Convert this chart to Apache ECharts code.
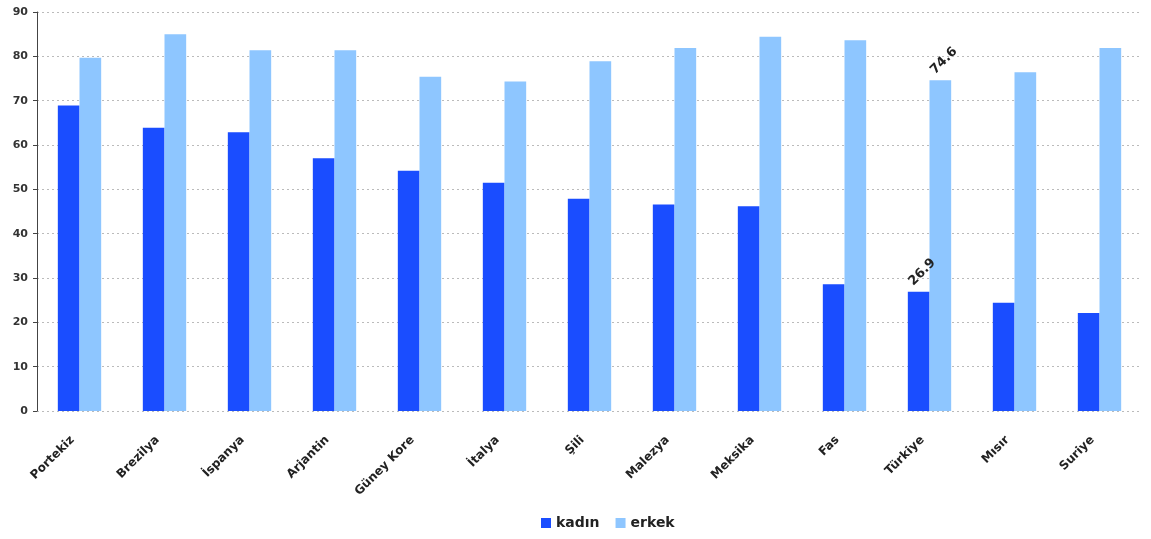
<!DOCTYPE html>
<html>
<head>
<meta charset="utf-8">
<script src="https://cdn.jsdelivr.net/npm/echarts@6/dist/echarts.min.js"></script>
<style>html,body{margin:0;padding:0;background:#fff;}#c{width:1151px;height:539px;}</style>
</head>
<body>
<div id="c"></div>
<script>
const categories = ['Portekiz','Brezilya','İspanya','Arjantin','Güney Kore','İtalya','Şili','Malezya','Meksika','Fas','Türkiye','Mısır','Suriye'];
const kadin = [68.9, 63.9, 62.9, 57.0, 54.2, 51.5, 47.9, 46.6, 46.2, 28.6, 26.9, 24.4, 22.1];
const erkek = [79.7, 85.0, 81.4, 81.4, 75.4, 74.3, 78.9, 81.9, 84.4, 83.6, 74.6, 76.4, 81.9];
const labelled = ['Türkiye'];
const yTicks = [0, 10, 20, 30, 40, 50, 60, 70, 80, 90];

const FONT = 'DejaVu Sans';
const chart = echarts.init(document.getElementById('c'), null, {renderer: 'canvas'});
function mk(vals) {
  return vals.map((v, i) => labelled.includes(categories[i])
    ? {value: v, label: {show: true}}
    : v);
}
const lbl = {
  show: false, position: 'top', rotate: 45, align: 'left', verticalAlign: 'middle',
  distance: 16, color: '#222', fontWeight: 'bold', fontSize: 13, fontFamily: FONT,
  offset: [-11, 0]
};
chart.setOption({
  animation: false,
  textStyle: {fontFamily: FONT},
  grid: {left: 37, right: 9, top: 12, bottom: 128, containLabel: false},
  legend: {
    top: 511, left: 536, itemWidth: 10, itemHeight: 10, itemGap: 16,
    icon: 'rect',
    textStyle: {fontSize: 14, color: '#222', fontWeight: 'bold', fontFamily: FONT},
    data: ['kadın', 'erkek']
  },
  xAxis: {
    type: 'category', data: categories,
    axisLine: {show: false}, axisTick: {show: false},
    axisLabel: {rotate: 45, interval: 0, fontSize: 12, fontWeight: 'bold', color: '#222', margin: 20,
      padding: [0, 10, 0, 0], fontFamily: FONT}
  },
  yAxis: {
    type: 'value', min: yTicks[0], max: yTicks[yTicks.length - 1], interval: 10,
    axisLine: {show: true, lineStyle: {color: '#444', width: 1}},
    axisTick: {show: true, length: 4, lineStyle: {color: '#444'}},
    axisLabel: {fontSize: 11, fontWeight: 'bold', color: '#333', margin: 9, fontFamily: FONT},
    splitLine: {show: true, lineStyle: {color: '#bbb', type: [2, 3], width: 1}}
  },
  series: [
    {name: 'kadın', type: 'bar', data: mk(kadin), barGap: '0%', barCategoryGap: '49%',
      itemStyle: {color: '#1a4dff'}, label: lbl},
    {name: 'erkek', type: 'bar', data: mk(erkek), barGap: '0%', barCategoryGap: '49%',
      itemStyle: {color: '#8ec6ff'}, label: lbl}
  ]
});
</script>
</body>
</html>
